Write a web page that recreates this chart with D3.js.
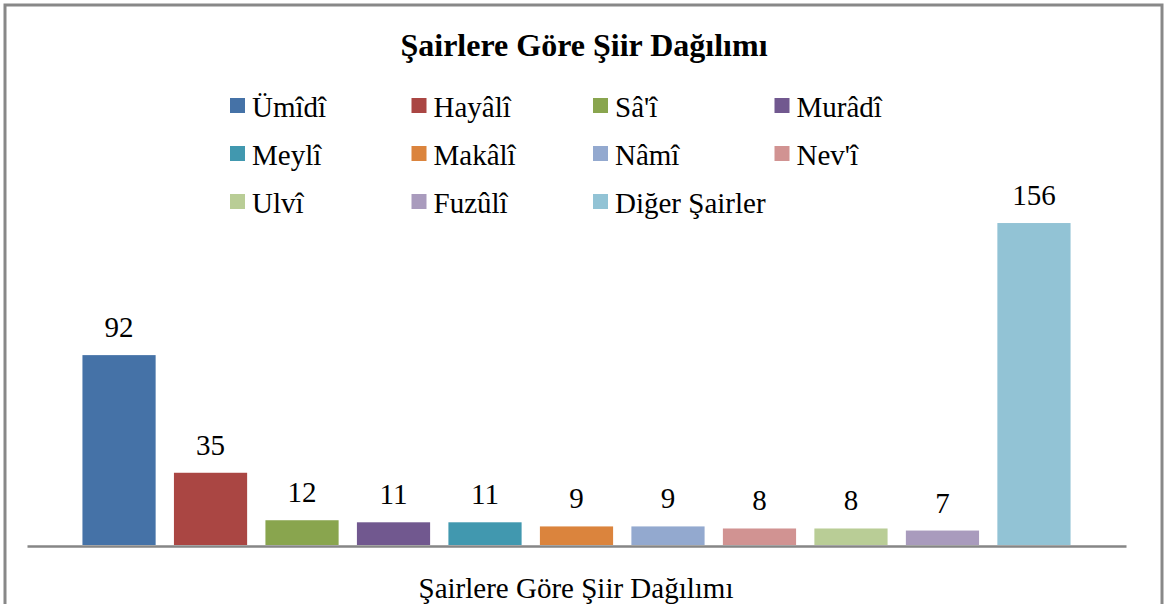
<!DOCTYPE html>
<html>
<head>
<meta charset="utf-8">
<script src="https://cdn.jsdelivr.net/npm/d3@7"></script>
<style>
  body { margin: 0; background: #fff; }
</style>
</head>
<body>
<script>
// chart values
var poets = ["Ümîdî", "Hayâlî", "Sâ'î", "Murâdî", "Meylî", "Makâlî", "Nâmî", "Nev'î", "Ulvî", "Fuzûlî", "Diğer Şairler"];
var counts = [92, 35, 12, 11, 11, 9, 9, 8, 8, 7, 156];
var colors = ["#4572A7", "#AA4643", "#89A54E", "#71588F", "#4198AF", "#DB843D",
              "#93A9CF", "#D19392", "#B9CD96", "#A99BBD", "#92C3D5"];
var chartTitle = "Şairlere Göre Şiir Dağılımı";
var axisTitle = "Şairlere Göre Şiir Dağılımı";

var FONT = "'Liberation Serif', 'Times New Roman', serif";

var W = 1164, H = 604;
var svg = d3.select("body").append("svg").attr("width", W).attr("height", H)
  .attr("font-family", FONT);

// outer frame (bottom edge falls off the picture)
svg.append("rect")
  .attr("x", 5).attr("y", 5).attr("width", 1157).attr("height", 620)
  .attr("fill", "#fff").attr("stroke", "#888").attr("stroke-width", 3);

svg.append("text")
  .attr("x", 584).attr("y", 56)
  .attr("text-anchor", "middle")
  .attr("font-size", 32).attr("font-weight", "bold")
  .text(chartTitle);

// legend: 4 columns, 3 rows
var legend = svg.append("g");
var item = legend.selectAll("g").data(poets).join("g")
  .attr("transform", function(d, i) {
    return "translate(" + (230 + (i % 4) * 181.5) + "," + (98 + Math.floor(i / 4) * 48) + ")";
  });
item.append("rect").attr("width", 15).attr("height", 15)
  .attr("fill", function(d, i) { return colors[i]; });
item.append("text").attr("x", 22).attr("y", 19)
  .attr("font-size", 29).text(function(d) { return d; });

var x = d3.scaleBand().domain(poets).range([27, 1126]).paddingInner(0.2).paddingOuter(0.606);
var y = d3.scaleLinear().domain([0, 180]).range([545, 173.5]);

svg.append("g").selectAll("rect").data(counts).join("rect")
  .attr("x", function(d, i) { return x(poets[i]); })
  .attr("width", x.bandwidth())
  .attr("y", function(d) { return y(d); })
  .attr("height", function(d) { return y(0) - y(d); })
  .attr("fill", function(d, i) { return colors[i]; });

svg.append("g").selectAll("text").data(counts).join("text")
  .attr("x", function(d, i) { return x(poets[i]) + x.bandwidth() / 2; })
  .attr("y", function(d) { return y(d) - 18; })
  .attr("text-anchor", "middle")
  .attr("font-size", 29)
  .text(function(d) { return d; });

// category axis: a plain line, no ticks
var xAxis = svg.append("g").attr("transform", "translate(0,546)")
  .call(d3.axisBottom(x).tickSize(0).tickFormat(""));
xAxis.select(".domain").attr("stroke", "#868686").attr("stroke-width", 2.5);

svg.append("text")
  .attr("x", 576).attr("y", 598)
  .attr("text-anchor", "middle")
  .attr("font-size", 29)
  .text(axisTitle);
</script>
</body>
</html>
